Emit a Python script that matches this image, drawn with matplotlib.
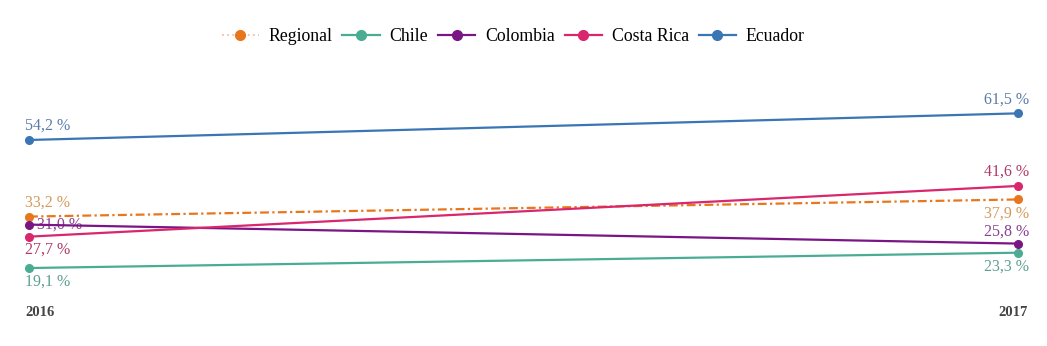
import matplotlib.pyplot as plt
from matplotlib.lines import Line2D

plt.rcParams['font.family'] = ['Liberation Serif', 'DejaVu Serif']

years = [2016, 2017]
series = ['Regional', 'Chile', 'Colombia', 'Costa Rica', 'Ecuador']
regional = [33.2, 37.9]
chile = [19.1, 23.3]
colombia = [31.0, 25.8]
costa_rica = [27.7, 41.6]
ecuador = [54.2, 61.5]

values = [regional, chile, colombia, costa_rica, ecuador]
line_colors = ['#e8761c', '#4aad93', '#7a1585', '#d9266c', '#3a75b4']
text_colors = ['#d49a5c', '#5f9f92', '#8a3f93', '#b03a68', '#5a7ca8']
# label offsets in points (start year, end year)
offsets = {
    'Regional': ((-3, 10), (8, -10)),
    'Chile': ((-3, -9.5), (8, -10)),
    'Colombia': ((6, 0), (8, 8.5)),
    'Costa Rica': ((-3, -9), (8, 10.5)),
    'Ecuador': ((-3, 10), (8, 10)),
}

fig = plt.figure(figsize=(10.47, 3.46), dpi=100)
ax = fig.add_axes([0.0277, 0.024, 0.9446, 0.738])
ax.set_xlim(2016, 2017)
ax.set_ylim(0, 70)
ax.axis('off')

for name, vals, lc, tc in zip(series, values, line_colors, text_colors):
    ls = (0, (4, 1.5, 1, 1.5)) if name == 'Regional' else '-'
    ax.plot(years, vals, color=lc, lw=1.6, ls=ls, marker='o', ms=5.5,
            clip_on=False, zorder=3)
    for i, (x, v) in enumerate(zip(years, vals)):
        dx, dy = offsets[name][i]
        ax.annotate(f'{v:.1f} %'.replace('.', ','), (x, v),
                    xytext=(dx, dy), textcoords='offset points',
                    ha='left' if i == 0 else 'right', va='center',
                    fontsize=11.5, color=tc, zorder=2)

ax.text(2016 - 0.004, 7, '2016', ha='left', va='center', fontsize=10.5,
        fontweight='bold', color='#444444')
ax.text(2017 + 0.01, 7, '2017', ha='right', va='center', fontsize=10.5,
        fontweight='bold', color='#444444')

handles = []
for name, lc in zip(series, line_colors):
    if name == 'Regional':
        h = Line2D([], [], color='#f0c8b0', lw=1.4, ls=':', marker='o', ms=7,
                   markerfacecolor=lc, markeredgecolor=lc)
    else:
        h = Line2D([], [], color=lc, lw=1.6, marker='o', ms=7)
    handles.append(h)
fig.legend(handles, series, loc='center', bbox_to_anchor=(0.49, 0.895),
           ncol=5, frameon=False, fontsize=12.8, handlelength=2.1,
           handletextpad=0.55, columnspacing=0.55)

fig.savefig('out.png', dpi=100)
